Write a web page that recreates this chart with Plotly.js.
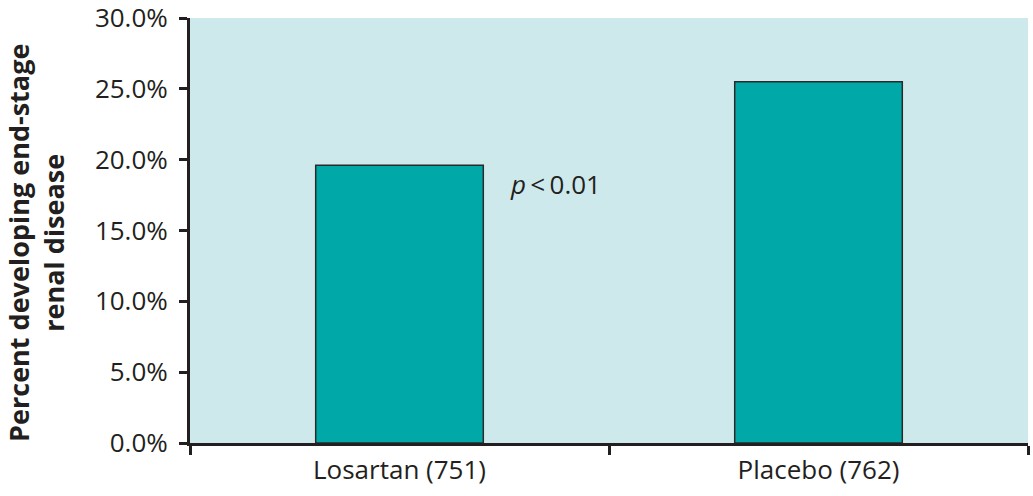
<!DOCTYPE html>
<html>
<head>
<meta charset="utf-8">
<script src="https://cdn.plot.ly/plotly-3.0.1.min.js"></script>
<style>html,body{margin:0;padding:0;background:#fff;}</style>
</head>
<body>
<div id="chart" style="width:1033px;height:496px;"></div>
<script>
const categories = ["Losartan (751)", "Placebo (762)"];
const percentESRD = [19.6, 25.5];
const yTicks = [0, 5, 10, 15, 20, 25, 30];
const yTickLabels = yTicks.map(v => v.toFixed(1) + "%");
const yTitle = "Percent developing end-stage<br>renal disease";
const pText = "<i>p</i>\u2009&lt;\u20090.01";

const trace = {
  type: "bar",
  x: categories,
  y: percentESRD,
  marker: {color: "#00a9a8", line: {color: "#2a2a2a", width: 1.5}},
  hoverinfo: "skip"
};

const layout = {
  width: 1033, height: 496,
  margin: {l: 190, r: 5, t: 18, b: 53},
  paper_bgcolor: "#ffffff",
  plot_bgcolor: "#cde9eb",
  bargap: 0.6,
  showlegend: false,
  font: {family: "Open Sans, Noto Sans, sans-serif", color: "#231f20", size: 26},
  xaxis: {
    type: "category",
    tickson: "boundaries",
    ticks: "outside", ticklen: 9, tickwidth: 3, tickcolor: "#231f20",
    showline: true, linewidth: 3, linecolor: "#231f20",
    showgrid: false, zeroline: false,
    tickfont: {size: 26, color: "#231f20"},
    ticklabelstandoff: 2
  },
  yaxis: {
    range: [0, 30],
    tickmode: "array",
    tickvals: yTicks,
    ticktext: yTickLabels,
    ticklabeloverflow: "allow",
    ticks: "outside", ticklen: 8, tickwidth: 3, tickcolor: "#231f20",
    showline: true, linewidth: 3, linecolor: "#231f20",
    showgrid: false, zeroline: false,
    tickfont: {size: 26, color: "#231f20"},
    ticklabelstandoff: 6
  },
  annotations: [
    {
      text: yTitle, textangle: -90,
      xref: "paper", yref: "paper", x: -0.183, y: 0.47,
      xanchor: "center", yanchor: "middle", align: "center",
      showarrow: false, borderpad: 0,
      font: {size: 27, color: "#231f20", family: "Open Sans, Noto Sans, sans-serif", weight: "bold"}
    },
    {
      text: pText,
      xref: "x", yref: "y", x: 0.26, y: 18.3,
      xanchor: "left", yanchor: "middle",
      showarrow: false,
      font: {size: 26, color: "#231f20"}
    }
  ]
};

Plotly.newPlot("chart", [trace], layout, {displayModeBar: false, staticPlot: true});
</script>
</body>
</html>
